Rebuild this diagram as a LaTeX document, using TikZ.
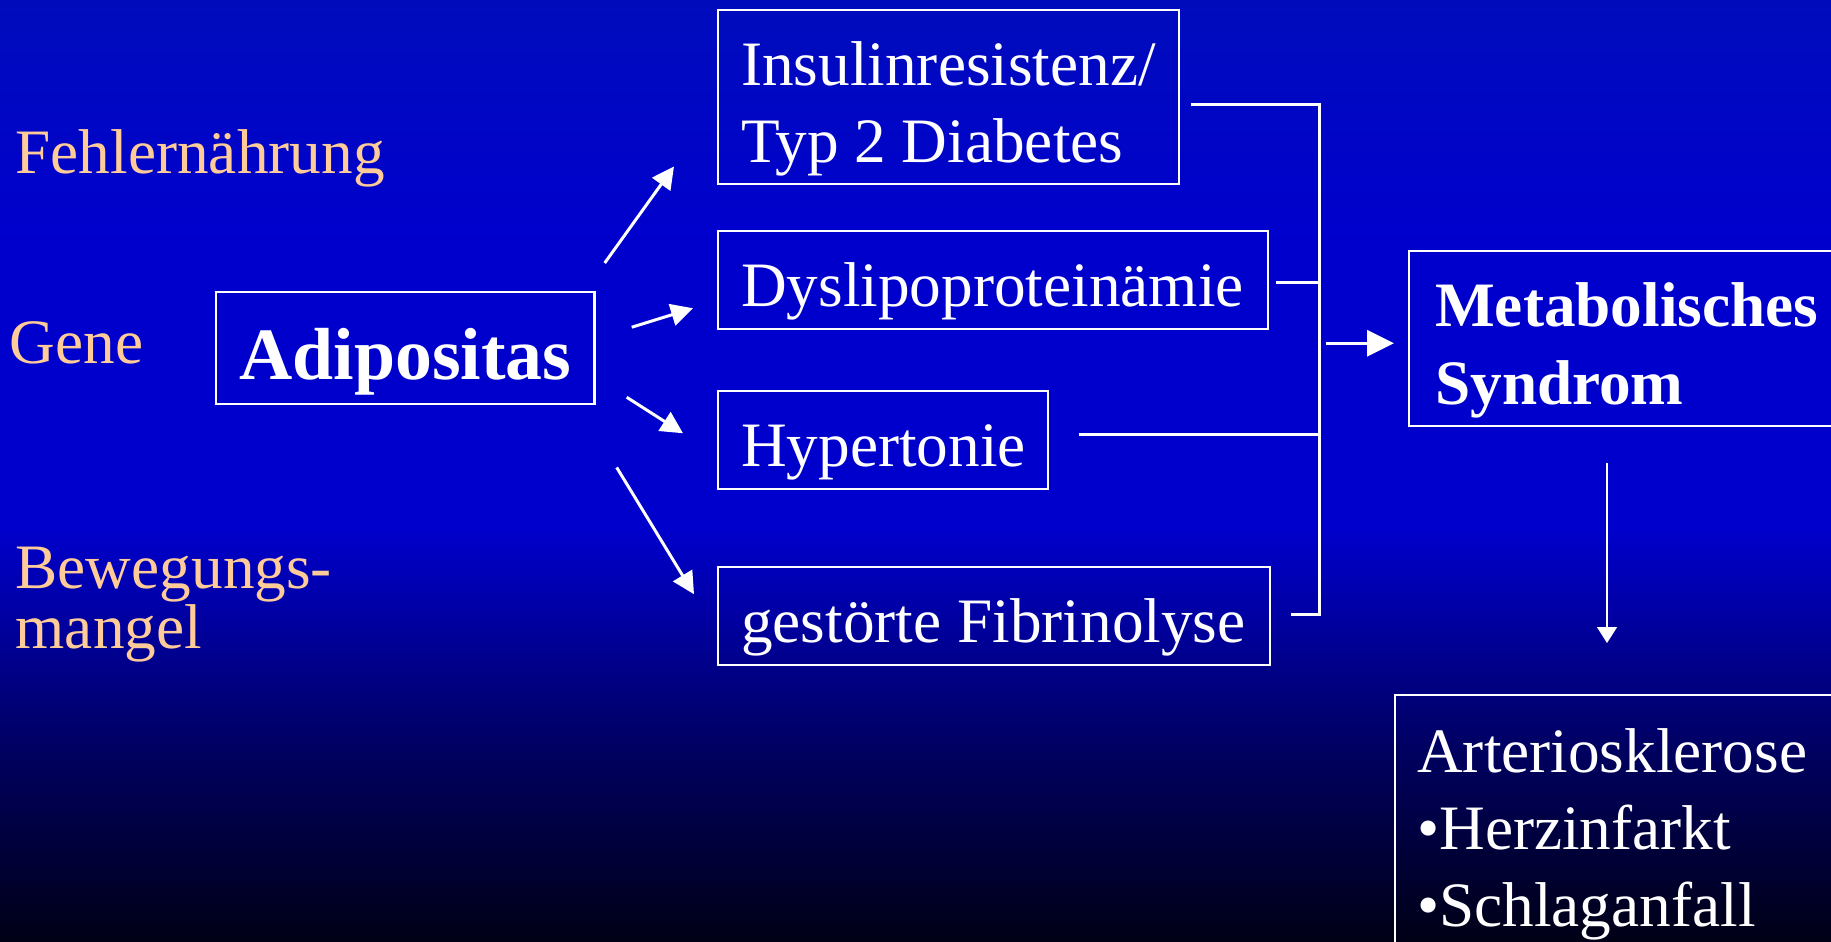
\documentclass[tikz,border=0pt]{standalone}
\usepackage{fontspec}
\setmainfont{Liberation Serif}
\usetikzlibrary{positioning, calc, arrows.meta}
\definecolor{bgtop}{RGB}{0,12,188}
\definecolor{bgmid}{RGB}{0,0,205}
\definecolor{bglow}{RGB}{0,0,95}
\definecolor{bgbot}{RGB}{0,0,22}
\definecolor{cause}{RGB}{255,204,153}
\pgfdeclareverticalshading{slidebg}{100bp}{color(0bp)=(bgbot); color(25bp)=(bgbot); color(35bp)=(bglow); color(47bp)=(bgmid); color(62bp)=(bgmid); color(75bp)=(bgtop); color(100bp)=(bgtop)}
\newcommand{\topstrut}{\rule{0pt}{1.06em}}
\hyphenpenalty=10000
\exhyphenpenalty=10000
\tikzset{
        causetext/.style={
            text=cause, font=\fontsize{18}{17}\selectfont, inner sep=0pt,
            align=flush left, anchor=base west
        },
        factorbox/.style={
            draw=white, line width=0.7pt, text=white, font=\fontsize{18}{22}\selectfont,
            align=flush left, inner xsep=0.23cm, inner ysep=0pt, anchor=north west
        },
        connect/.style={draw=white, line width=0.85pt},
        flow/.style={connect, -{Triangle[length=0.22cm, width=0.22cm]}},
        bigflow/.style={connect, -{Triangle[length=0.27cm, width=0.26cm]}},
        thinflow/.style={draw=white, line width=0.4pt, -{Triangle[length=0.16cm, width=0.2cm]}},
}

\begin{document}
\begin{tikzpicture}

        % BACKGROUND
        \useasboundingbox (0,0) rectangle (18.31,-9.41);
        \clip (0,0) rectangle (18.31,-9.41);
        \fill[shading=slidebg] (0,0) rectangle (18.31,-9.41);

        % DRAW NODES
        \node[causetext] (FEHL)  at (0.15,-1.73) {Fehlernährung};
        \node[causetext] (GENE)  at (0.09,-3.63) {Gene};
        \node[causetext] (BEWEG) at (0.15,-6.48) {Bewegungs-\\mangel};

        \node[factorbox, font=\fontsize{21}{25}\selectfont\bfseries, align=center,
              minimum width=3.78cm, minimum height=1.12cm] (ADIP) at (2.15,-2.91) {\topstrut Adipositas};

        \node[factorbox, text width=4.15cm, minimum height=1.74cm] (INSULIN) at (7.17,-0.09) {\topstrut Insulinresistenz/\\Typ 2 Diabetes};
        \node[factorbox, text width=5.04cm, minimum height=0.98cm] (DYS)     at (7.17,-2.30) {\topstrut Dyslipoproteinämie};
        \node[factorbox, text width=2.84cm, minimum height=0.98cm] (HYPER)   at (7.17,-3.90) {\topstrut Hypertonie};
        \node[factorbox, text width=5.06cm, minimum height=0.98cm] (FIBR)    at (7.17,-5.66) {\topstrut gestörte Fibrinolyse};

        \node[factorbox, font=\fontsize{18}{22}\selectfont\bfseries, inner xsep=0.26cm, text width=4.3cm,
              minimum height=1.75cm] (METAB) at (14.08,-2.50) {\topstrut Metabolisches\\Syndrom};
        \node[factorbox, inner xsep=0.22cm, text width=4.4cm, minimum height=2.55cm] (ARTER) at (13.94,-6.94)
              {\topstrut Arteriosklerose\\•Herzinfarkt\\•Schlaganfall};

        % ARROWS FROM ADIPOSITAS
        \draw[flow] ($(ADIP.north east)+(0.09,0.28)$) -- ($(INSULIN.south west)+(-0.43,0.19)$);
        \draw[flow] ($(ADIP.east)+(0.36,0.21)$)        -- ($(DYS.west)+(-0.24,-0.28)$);
        \draw[flow] ($(ADIP.east)+(0.31,-0.49)$)       -- ($(HYPER.west)+(-0.34,0.07)$);
        \draw[flow] ($(ADIP.south east)+(0.21,-0.62)$) -- ($(FIBR.west)+(-0.23,0.22)$);

        % BRACKET
        \coordinate (BRTOP) at ($(INSULIN.east)+(1.39,-0.07)$);
        \coordinate (BRBOT) at ($(BRTOP |- FIBR.east)+(0,0.02)$);
        \draw[connect] ($(INSULIN.east)+(0.11,-0.07)$) -- (BRTOP) -- (BRBOT) -- ($(FIBR.east)+(0.20,0.02)$);
        \draw[connect] ($(DYS.east)+(0.07,-0.02)$)   -- ($(BRTOP |- DYS.east)+(0,-0.02)$);
        \draw[connect] ($(HYPER.east)+(0.30,0.06)$)  -- ($(BRTOP |- HYPER.east)+(0,0.06)$);

        % CONNECT TO SYNDROM AND OUTCOME
        \draw[bigflow]  ($(BRTOP |- METAB.west)+(0.07,-0.045)$) -- ($(METAB.west)+(-0.14,-0.045)$);
        \draw[thinflow] ($(METAB.south west)+(1.99,-0.36)$) -- ($(ARTER.north west)+(2.13,0.51)$);

\end{tikzpicture}
\end{document}
